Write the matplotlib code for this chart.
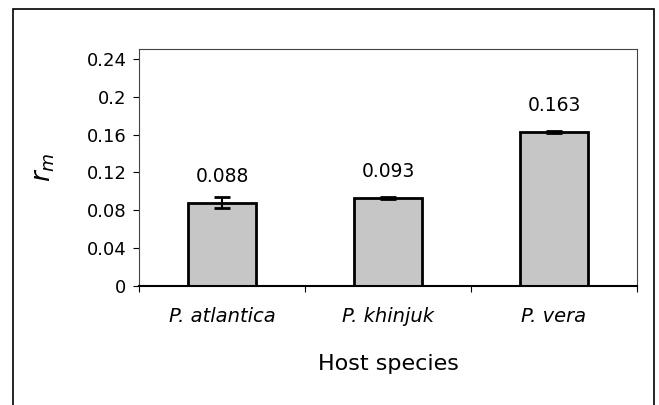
import numpy as np
import matplotlib
matplotlib.use("Agg")
import matplotlib.pyplot as plt
from matplotlib.patches import Rectangle

# data
hosts = ["P. atlantica", "P. khinjuk", "P. vera"]
rm_values = [0.088, 0.093, 0.163]
rm_errors = [0.006, 0.0015, 0.001]
value_labels = ["0.088", "0.093", "0.163"]
y_ticks = [0, 0.04, 0.08, 0.12, 0.16, 0.2, 0.24]
y_tick_labels = ["0", "0.04", "0.08", "0.12", "0.16", "0.2", "0.24"]

plt.rcParams['font.family'] = 'DejaVu Sans'

W, H = 659, 405
fig = plt.figure(figsize=(W / 100, H / 100), dpi=100)
ax = fig.add_axes([139 / W, 1 - 286 / H, (637 - 139) / W, (286 - 49) / H])

x = np.arange(len(hosts))
ax.bar(x, rm_values, width=0.41, color="#c6c6c6", edgecolor="black",
       linewidth=2, zorder=2)
ax.errorbar(x, rm_values, yerr=rm_errors, fmt="none", ecolor="black",
            elinewidth=1.5, capsize=6, capthick=2, zorder=3)

for xi, v, lab in zip(x, rm_values, value_labels):
    ax.annotate(lab, (xi, v), xytext=(0, 19), textcoords="offset points",
                ha="center", va="center", fontsize=13.5)

ax.set_xlim(-0.5, 2.5)
ax.set_ylim(0, 0.2505)
ax.set_yticks(y_ticks)
ax.set_yticklabels(y_tick_labels, fontsize=13)
ax.tick_params(axis="y", length=4, width=0.8, pad=5)

ax.set_xticks(x)
ax.set_xticklabels(hosts, fontsize=14, style="italic")
ax.tick_params(axis="x", which="major", length=0, pad=15)
ax.set_xticks([-0.5, 0.5, 1.5, 2.5], minor=True)
ax.tick_params(axis="x", which="minor", length=4, width=0.8)

ax.set_xlabel("Host species", fontsize=16, labelpad=20)
ax.set_ylabel("$r_m$", fontsize=19, labelpad=21)

for side in ["top", "right", "left"]:
    ax.spines[side].set_linewidth(0.8)
    ax.spines[side].set_color("#444444")
ax.spines["bottom"].set_linewidth(1.5)

# outer chart border
fig.add_artist(Rectangle((13 / W, -0.05), (654 - 13) / W, 1 - 9 / H + 0.05,
                         transform=fig.transFigure, fill=False,
                         edgecolor="black", linewidth=1.2, clip_on=False))

fig.savefig("out.png", dpi=100)
